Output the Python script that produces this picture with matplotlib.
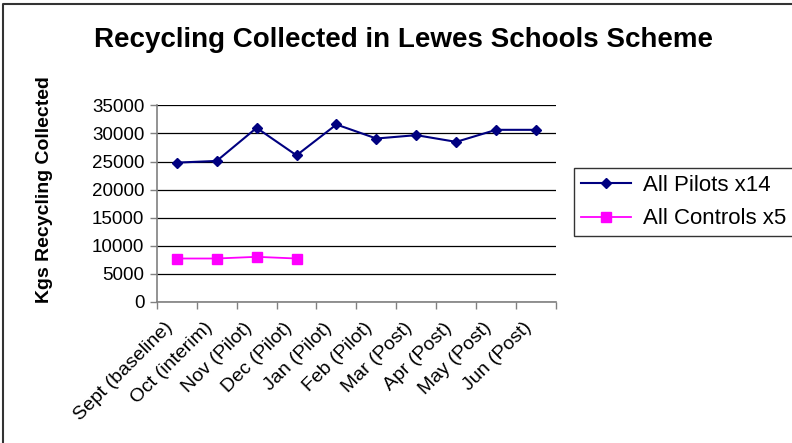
import matplotlib
matplotlib.use("Agg")
import matplotlib.pyplot as plt
from matplotlib.lines import Line2D
from matplotlib.transforms import ScaledTranslation
import numpy as np

plt.rcParams['font.family'] = ['Liberation Sans', 'DejaVu Sans']

months = ["Sept (baseline)", "Oct (interim)", "Nov (Pilot)", "Dec (Pilot)",
          "Jan (Pilot)", "Feb (Pilot)", "Mar (Post)", "Apr (Post)",
          "May (Post)", "Jun (Post)"]
pilots = [24800, 25100, 31000, 26100, 31600, 29100, 29700, 28500, 30650, 30650]
controls = [7700, 7700, 8000, 7700]
y_ticks = [0, 5000, 10000, 15000, 20000, 25000, 30000, 35000]

fig = plt.figure(figsize=(7.92, 4.43), dpi=100)
ax = fig.add_axes([0.198, 0.319, 0.504, 0.443])

x = np.arange(len(months))
ax.plot(x, pilots, color='#000080', marker='D', markersize=5.4, linewidth=1.5,
        label='All Pilots x14')
ax.plot(np.arange(len(controls)), controls, color='#FF00FF', marker='s',
        markersize=7, linewidth=1.3, label='All Controls x5')

ax.set_xlim(-0.5, len(months) - 0.5)
ax.set_ylim(0, 35000)
ax.set_yticks(y_ticks)
ax.set_yticklabels([str(v) for v in y_ticks], fontsize=13.5)
ax.yaxis.grid(True, color='black', linewidth=0.9)
ax.set_axisbelow(True)

# tick marks on the category boundaries, labels at the category centres
ax.set_xticks(np.arange(len(months) + 1) - 0.5)
ax.set_xticklabels([])
ax.set_xticks(x, minor=True)
ax.set_xticklabels(months, minor=True, rotation=45, ha='right', va='center',
                   rotation_mode='anchor', fontsize=14)
ax.tick_params(axis='x', which='minor', length=0, pad=17)
ax.tick_params(axis='x', which='major', length=5, color='#808080', width=1)
ax.tick_params(axis='y', length=5, color='#808080', width=1, pad=4)

# nudge the slanted month labels a little to the left of their centres
nudge = ScaledTranslation(-7 / 100, 0, fig.dpi_scale_trans)
for lbl in ax.get_xticklabels(minor=True):
    lbl.set_transform(lbl.get_transform() + nudge)

for side in ['top', 'right']:
    ax.spines[side].set_visible(False)
for side in ['left', 'bottom']:
    ax.spines[side].set_color('#808080')
    ax.spines[side].set_linewidth(1.2)

fig.text(45 / 792, 1 - 190 / 443, 'Kgs Recycling Collected', rotation=90,
         ha='center', va='center', fontsize=14, fontweight='bold')
fig.text(0.509, 1 - 47 / 443, 'Recycling Collected in Lewes Schools Scheme',
         ha='center', va='baseline', fontsize=20, fontweight='bold')

leg = fig.legend(loc='upper left', bbox_to_anchor=(574 / 792, 1 - 168 / 443),
                 borderaxespad=0, fontsize=16, frameon=True, fancybox=False,
                 edgecolor='black', borderpad=0.32, handlelength=2.25,
                 labelspacing=0.55, handletextpad=0.55)
leg.get_frame().set_linewidth(1.0)

# chart border: left and top edges
fig.add_artist(Line2D([3 / 792, 3 / 792, 1.0], [0.0, 1 - 4 / 443, 1 - 4 / 443],
                      transform=fig.transFigure, color='#333333', linewidth=1.5))

fig.savefig('out.png', dpi=100)
